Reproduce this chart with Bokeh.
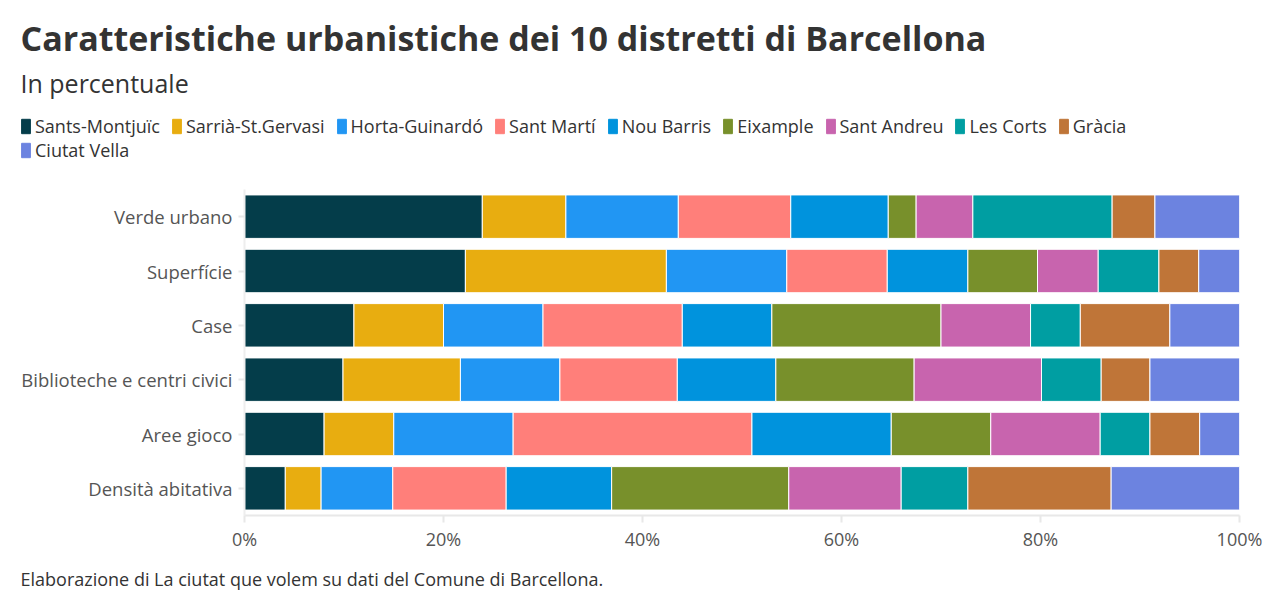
from bokeh.plotting import figure
from bokeh.layouts import column
from bokeh.models import (ColumnDataSource, FactorRange, Range1d, FixedTicker,
                          PrintfTickFormatter, Legend, LegendItem)
from bokeh.core.properties import value
from bokeh.embed import file_html
from bokeh.resources import INLINE

FONT = "Open Sans"
W = 1288

categories = ["Verde urbano", "Superfície", "Case",
              "Biblioteche e centri civici", "Aree gioco", "Densità abitativa"]

districts = ["Sants-Montjuïc", "Sarrià-St.Gervasi", "Horta-Guinardó", "Sant Martí",
             "Nou Barris", "Eixample", "Sant Andreu", "Les Corts", "Gràcia", "Ciutat Vella"]

colors = ["#043d4a", "#e8ad10", "#2196f3", "#ff7f7a", "#0093dd",
          "#78902b", "#c864ae", "#009ea2", "#bf7538", "#6c83e0"]

# share (%) of each district, in category order
sants_montjuic = [23.9, 22.2, 11.0, 9.9, 8.0, 4.1]
sarria_st_gervasi = [8.4, 20.2, 9.0, 11.8, 7.0, 3.6]
horta_guinardo = [11.3, 12.1, 10.0, 10.0, 12.0, 7.2]
sant_marti = [11.3, 10.1, 14.0, 11.8, 24.0, 11.4]
nou_barris = [9.8, 8.1, 9.0, 9.9, 14.0, 10.6]
eixample = [2.8, 7.0, 17.0, 13.9, 10.0, 17.8]
sant_andreu = [5.7, 6.1, 9.0, 12.8, 11.0, 11.3]
les_corts = [14.0, 6.1, 5.0, 6.0, 5.0, 6.7]
gracia = [4.3, 4.0, 9.0, 4.9, 5.0, 14.4]
ciutat_vella = [8.5, 4.1, 7.0, 9.0, 4.0, 12.9]

x_ticks = [0, 20, 40, 60, 80, 100]

title_text = "Caratteristiche urbanistiche dei 10 distretti di Barcellona"
subtitle_text = "In percentuale"
source_text = "Elaborazione di La ciutat que volem su dati del Comune di Barcellona."

series = [sants_montjuic, sarria_st_gervasi, horta_guinardo, sant_marti, nou_barris,
          eixample, sant_andreu, les_corts, gracia, ciutat_vella]
keys = ["d%d" % i for i in range(len(districts))]
data = {"cat": categories}
for k, s in zip(keys, series):
    data[k] = s
source = ColumnDataSource(data)


def blank(height):
    """A figure whose frame fills the whole canvas, in pixel coordinates."""
    f = figure(width=W, height=height, x_range=Range1d(0, W), y_range=Range1d(height, 0),
               x_axis_type=None, y_axis_type=None, min_border=0,
               output_backend="svg", toolbar_location=None)
    f.grid.visible = False
    f.outline_line_color = None
    f.frame_align = False
    return f


def make_legend(names, swatches, loc):
    return Legend(items=[LegendItem(label=n, renderers=[r]) for n, r in zip(names, swatches)],
                  location=loc, orientation="horizontal",
                  glyph_width=11, glyph_height=18, label_standoff=4, spacing=11,
                  padding=0, margin=0, label_text_font=FONT, label_text_font_size="18px",
                  label_text_color="#333333", label_height=18,
                  border_line_alpha=0, background_fill_alpha=0)


# ---- header: title, subtitle and legend
header = blank(189)
header.text(x=[20], y=[37], text=[title_text], text_font=value(FONT),
            text_font_size="34px", text_font_style="bold", text_color="#333333",
            text_baseline="middle")
header.text(x=[20], y=[82], text=[subtitle_text], text_font=value(FONT),
            text_font_size="25px", text_color="#333333", text_baseline="middle")

swatches = [header.hbar(y=[float("nan")], right=[float("nan")], height=1,
                        fill_color=c, line_color=c) for c in colors]
header.add_layout(make_legend(districts[:9], swatches[:9], (20, 51)))
header.add_layout(make_legend(districts[9:], swatches[9:], (20, 27)))

# ---- stacked bars
p = figure(width=W, height=364,
           y_range=FactorRange(factors=list(reversed(categories))),
           x_range=Range1d(0, 100),
           output_backend="svg", toolbar_location=None,
           min_border_left=244, min_border_right=49,
           min_border_top=0, min_border_bottom=36)
p.frame_align = False

p.hbar_stack(keys, y="cat", height=0.8, color=colors, source=source,
             line_color="white", line_width=1)

p.xaxis.ticker = FixedTicker(ticks=x_ticks)
p.xaxis.formatter = PrintfTickFormatter(format="%d%%")
p.xaxis.axis_line_color = "#e8e8e8"
p.xaxis.axis_line_width = 2
p.xaxis.major_tick_line_color = "#e8e8e8"
p.xaxis.major_tick_line_width = 2
p.xaxis.major_tick_out = 7
p.xaxis.major_tick_in = 0
p.xaxis.minor_tick_line_color = None
p.xaxis.major_label_text_font = FONT
p.xaxis.major_label_text_font_size = "18px"
p.xaxis.major_label_text_color = "#555555"
p.xaxis.major_label_standoff = 4

p.yaxis.axis_line_color = "#eeeeee"
p.yaxis.axis_line_width = 2
p.yaxis.major_tick_line_color = "#e8e8e8"
p.yaxis.major_tick_line_width = 2
p.yaxis.major_tick_out = 6
p.yaxis.major_tick_in = 0
p.yaxis.major_label_text_font = FONT
p.yaxis.major_label_text_font_size = "18.5px"
p.yaxis.major_label_text_color = "#555555"
p.yaxis.major_label_standoff = 6

p.xgrid.visible = False
p.ygrid.grid_line_color = "#eeeeee"
p.outline_line_color = None

# ---- source note
footer = blank(60)
footer.text(x=[20], y=[25], text=[source_text], text_font=value(FONT),
            text_font_size="18px", text_color="#333333", text_baseline="middle")

open("out.html", "w").write(file_html(column(header, p, footer, spacing=0), INLINE))
